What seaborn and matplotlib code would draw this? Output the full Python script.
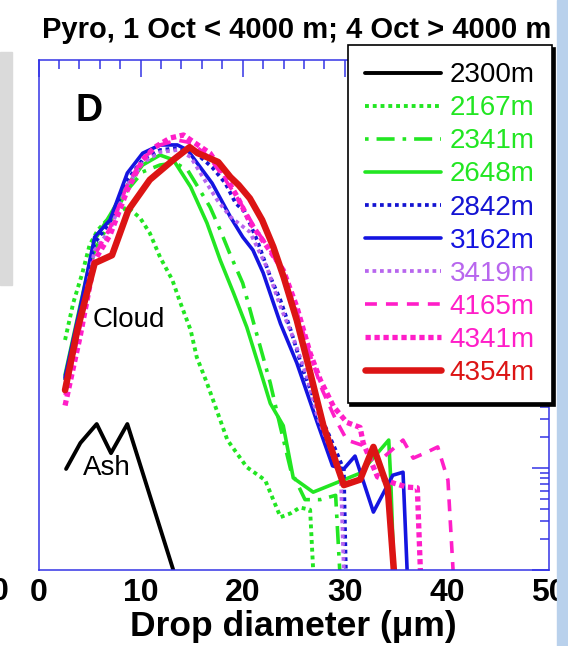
import matplotlib
matplotlib.use('Agg')

import matplotlib.pyplot as plt
import matplotlib.ticker as mticker
from matplotlib.patches import Rectangle
import seaborn as sns
import pandas as pd

# --- data (drop diameter in um, concentration, log axis) ---
ash_x = [2.7, 4.1, 5.7, 7.1, 8.7, 13.2]
ash_y = [0.0098, 0.0176, 0.027, 0.014, 0.027, 0.001]

g2167_x = [2.6, 3.4, 4.3, 5.0, 5.8, 7.0, 8.7, 9.95, 10.9, 11.9, 13.1, 13.9, 14.9, 15.5, 16.5,
           18.5, 20.4, 22.2, 23.7, 24.7, 25.6, 26.6, 26.9]
g2167_y = [0.18, 0.415, 0.82, 1.53, 2.15, 2.89, 3.62, 2.83, 2.01, 1.17, 0.70, 0.415, 0.225, 0.122,
           0.068, 0.0188, 0.0102, 0.0076, 0.0033, 0.0036, 0.0041, 0.0039, 0.001]

g2341_x = [2.6, 4.1, 5.5, 7.0, 8.7, 10.2, 11.9, 13.4, 14.6, 15.8, 16.8, 17.8, 18.8, 20.0, 21.0,
           22.0, 22.7, 23.7, 24.7, 26.1, 27.6, 29.1, 29.5]
g2341_y = [0.073, 0.35, 1.37, 2.58, 5.3, 8.0, 9.35, 9.8, 8.35, 5.3, 3.62, 2.15, 1.22, 0.65, 0.28,
           0.122, 0.068, 0.025, 0.0096, 0.0049, 0.0049, 0.0054, 0.001]

g2648_x = [2.6, 4.1, 5.5, 7.0, 8.7, 10.2, 11.9, 13.2, 14.9, 16.5, 17.8, 19.1, 20.4, 22.0, 22.7,
           23.97, 24.95, 26.9, 31.5, 34.3, 34.5, 34.8]
g2648_y = [0.082, 0.40, 1.72, 3.02, 5.95, 9.35, 11.7, 10.5, 5.7, 2.52, 1.09, 0.52, 0.24, 0.073,
           0.043, 0.026, 0.0080, 0.0058, 0.0089, 0.0188, 0.0076, 0.001]

b2842_x = [2.6, 4.1, 5.5, 7.0, 8.7, 10.2, 11.9, 13.6, 15.3, 17.0, 18.3, 19.3, 20.2, 21.4, 22.7,
           23.7, 24.7, 25.9, 26.9, 27.9, 29.1, 29.9, 30.1]
b2842_y = [0.073, 0.35, 1.61, 2.58, 6.7, 10.5, 13.1, 13.7, 12.5, 8.9, 6.2, 3.96, 3.24, 1.72, 0.75,
           0.44, 0.225, 0.091, 0.050, 0.028, 0.0150, 0.0096, 0.001]

b3162_x = [2.6, 4.1, 5.5, 7.0, 8.7, 10.2, 11.9, 13.6, 14.6, 15.1, 17.0, 18.8, 20.0, 21.0, 22.0,
           23.7, 25.3, 27.3, 28.8, 29.9, 31.0, 32.8, 34.7, 35.7, 36.1]
b3162_y = [0.078, 0.38, 1.84, 2.70, 7.8, 12.2, 14.7, 14.7, 13.1, 11.2, 6.2, 2.89, 1.84, 1.37, 0.82,
           0.26, 0.107, 0.028, 0.0105, 0.0098, 0.0131, 0.0037, 0.0085, 0.0091, 0.001]

p3419_x = [2.6, 4.1, 5.5, 7.0, 8.7, 10.2, 11.9, 13.6, 14.9, 16.1, 17.5, 18.8, 20.7, 21.4, 22.4,
           23.7, 24.95, 26.3, 27.3, 28.6, 29.6, 29.9]
p3419_y = [0.058, 0.28, 1.37, 2.15, 5.95, 9.8, 12.5, 13.1, 11.2, 7.1, 4.24, 2.89, 2.06, 1.47, 0.91,
           0.38, 0.19, 0.078, 0.032, 0.0150, 0.0085, 0.001]

m4165_x = [2.6, 4.1, 5.5, 7.0, 8.7, 10.2, 11.9, 13.6, 15.0, 16.8, 18.3, 19.8, 21.2, 22.7, 23.97,
           25.3, 26.6, 27.8, 29.1, 30.2, 32.2, 33.5, 35.7, 36.7, 38.1, 39.1, 40.1, 40.6]
m4165_y = [0.052, 0.25, 1.22, 2.25, 5.95, 10.9, 14.7, 16.4, 15.4, 10.9, 6.7, 3.96, 2.25, 1.37, 0.78,
           0.34, 0.128, 0.058, 0.030, 0.0188, 0.0161, 0.0120, 0.0188, 0.0125, 0.0144, 0.0161,
           0.0076, 0.001]

m4341_x = [2.6, 4.1, 5.5, 7.0, 8.7, 10.2, 11.4, 12.9, 14.2, 15.6, 16.8, 18.1, 19.5, 20.7, 22.4,
           23.97, 25.3, 26.6, 27.6, 28.9, 30.2, 31.5, 31.8, 33.2, 34.8, 36.1, 37.1, 37.4]
m4341_y = [0.041, 0.20, 1.09, 1.92, 5.3, 10.5, 14.0, 17.2, 18.4, 14.7, 12.2, 7.8, 4.5, 2.58, 1.47,
           0.87, 0.38, 0.134, 0.073, 0.040, 0.028, 0.025, 0.0176, 0.0082, 0.0071, 0.0065,
           0.0064, 0.001]

r4354_x = [2.6, 3.8, 5.5, 7.2, 8.8, 10.9, 13.2, 14.8, 15.6, 17.6, 18.8, 19.6, 20.7, 21.9, 23.0,
           24.0, 25.3, 26.6, 27.9, 29.9, 31.5, 32.8, 34.2, 34.8]
r4354_y = [0.058, 0.225, 1.02, 1.22, 3.38, 6.7, 10.5, 14.0, 12.2, 10.0, 7.1, 5.95, 4.4, 2.7, 1.47,
           0.75, 0.28, 0.087, 0.026, 0.0068, 0.0077, 0.0161, 0.0064, 0.001]

labels = ["2300m", "2167m", "2341m", "2648m", "2842m", "3162m", "3419m", "4165m", "4341m", "4354m"]

# style of each curve: (x, y, colour, linestyle, linewidth)
series = [
    (ash_x, ash_y, "black", "-", 2.8),
    (g2167_x, g2167_y, "#22e622", (0, (1, 1)), 2.8),
    (g2341_x, g2341_y, "#22e622", (0, (1, 2.2, 5, 2.2)), 2.6),
    (g2648_x, g2648_y, "#22e622", "-", 2.6),
    (b2842_x, b2842_y, "#1414d2", (0, (1, 1)), 2.7),
    (b3162_x, b3162_y, "#1414e0", "-", 2.6),
    (p3419_x, p3419_y, "#b866ee", (0, (1, 1)), 2.7),
    (m4165_x, m4165_y, "#ff1ec8", (0, (3.3, 2.5)), 2.6),
    (m4341_x, m4341_y, "#ff1ec8", (0, (1, 0.7)), 3.8),
    (r4354_x, r4354_y, "#dc1414", "-", 4.7),
]

sns.set_style("white")
plt.rcParams['font.family'] = ['Liberation Sans', 'DejaVu Sans']
plt.rcParams['text.color'] = 'black'
plt.rcParams['axes.labelcolor'] = 'black'
plt.rcParams['xtick.labelcolor'] = 'black'

fig = plt.figure(figsize=(5.68, 6.46), dpi=100)
ax = fig.add_axes([0.0678, 0.1176, 0.8988, 0.7895])

for (xs, ys, col, ls, lw), lab in zip(series, labels):
    df = pd.DataFrame({"d": xs, "n": ys})
    sns.lineplot(data=df, x="d", y="n", ax=ax, color=col, linestyle=ls, linewidth=lw,
                 estimator=None, sort=False, label=lab)

ax.set_yscale("log")
ax.set_xlim(0, 50)
ax.set_ylim(1e-3, 1e2)

# blue frame with inward ticks on all four sides
axis_blue = "#3434e6"
for sp in ax.spines.values():
    sp.set_color(axis_blue)
    sp.set_linewidth(1.1)
ax.xaxis.set_major_locator(mticker.MultipleLocator(10))
ax.xaxis.set_minor_locator(mticker.MultipleLocator(2))
ax.yaxis.set_major_locator(mticker.LogLocator(base=10, numticks=10))
ax.yaxis.set_minor_locator(mticker.LogLocator(base=10, subs=range(2, 10), numticks=10))
ax.yaxis.set_minor_formatter(mticker.NullFormatter())
ax.tick_params(which="both", direction="in", top=True, right=True, color=axis_blue, width=1.1)
ax.tick_params(which="major", length=12)
ax.tick_params(which="minor", length=6.5)
ax.tick_params(axis="y", labelleft=False)
ax.tick_params(axis="x", labelsize=23, pad=6, labelcolor="black")
for t in ax.get_xticklabels():
    t.set_fontweight("bold")

ax.set_xlabel("Drop diameter (μm)", fontsize=25.5, fontweight="bold", labelpad=1, color="black")
ax.set_ylabel("")

# panel letter and curve annotations
ax.text(0.10, 0.90, "D", transform=ax.transAxes, fontsize=27, fontweight="bold", ha="center", va="center")
ax.text(0.176, 0.49, "Cloud", transform=ax.transAxes, fontsize=20, ha="center", va="center")
ax.text(0.133, 0.20, "Ash", transform=ax.transAxes, fontsize=20, ha="center", va="center")

fig.text(0.522, 0.954, "Pyro, 1 Oct < 4000 m; 4 Oct > 4000 m", fontsize=21, fontweight="bold",
         ha="center", va="center")

leg = ax.legend(loc="upper right", bbox_to_anchor=(0.9718, 0.9303), bbox_transform=fig.transFigure,
                borderaxespad=0, fontsize=20, handlelength=2.75, handletextpad=0.3,
                labelspacing=0.255, borderpad=0.62, fancybox=False, framealpha=1,
                edgecolor="black", labelcolor="linecolor",
                shadow={"color": "black", "alpha": 1})
leg.get_frame().set_linewidth(1.2)
leg.set_zorder(10)

# bits of the neighbouring slide: grey edge at left, blue strip at right, cut-off tick label
fig.patches.append(Rectangle((0, 1 - 285 / 646), 12 / 568, 233 / 646, transform=fig.transFigure,
                             color="#dadada", zorder=0))
fig.patches.append(Rectangle((557 / 568, 0), 11 / 568, 1, transform=fig.transFigure,
                             color="#b9d1ec", zorder=0))
fig.text(9 / 568, 1 - 592 / 646, "0", fontsize=23, fontweight="bold", ha="right", va="center")

fig.savefig("out.png", dpi=100)
plt.close(fig)
